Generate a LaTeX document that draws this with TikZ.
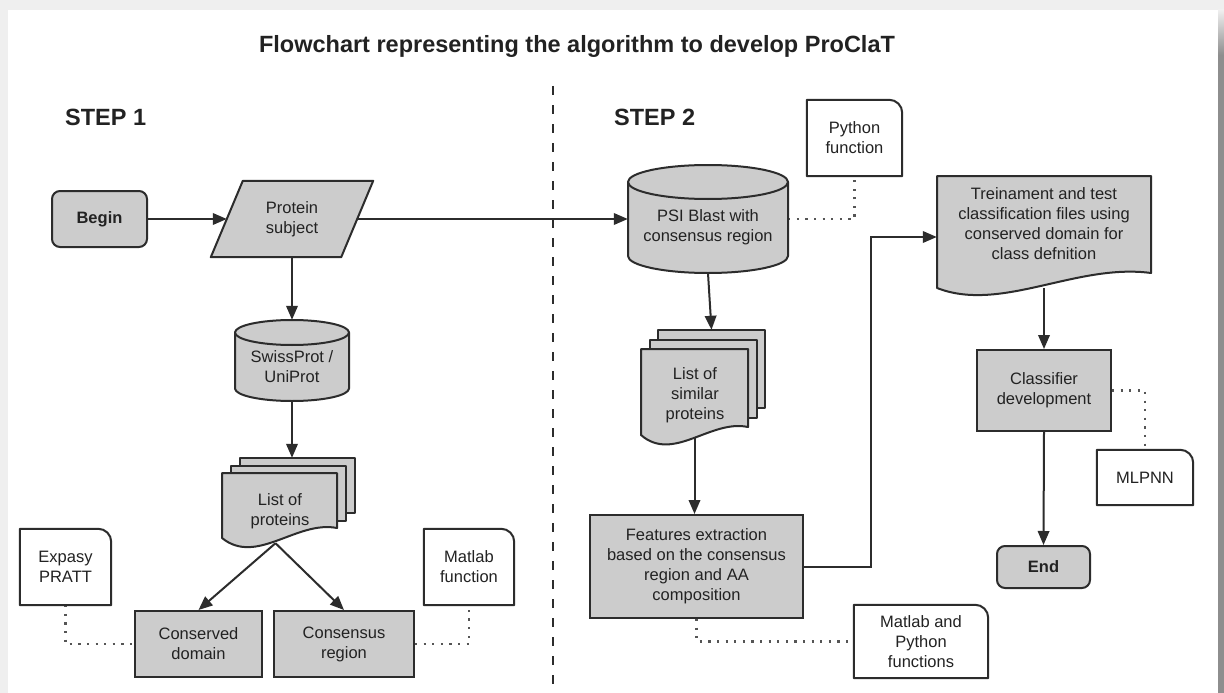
\documentclass[tikz,border=0pt]{standalone}
\usepackage{fontspec}
\setmainfont{Liberation Sans}
\usetikzlibrary{calc,arrows.meta}
\pgfdeclarelayer{back}
\pgfdeclarelayer{bg}
\pgfdeclarelayer{shapes}
\pgfsetlayers{back,bg,shapes,main}
\definecolor{shfill}{HTML}{CCCCCC}
\definecolor{ink}{HTML}{2C2C2C}
\definecolor{txtc}{HTML}{222222}
\definecolor{dotc}{HTML}{555555}
\definecolor{frameg}{HTML}{EFEFEF}
\definecolor{stripg}{HTML}{8E8E8E}
\tikzset{
  base/.style={draw=none, inner sep=0pt, align=center, text=txtc,
    font=\fontsize{16.5}{20}\selectfont},
  ghost/.style={base},
  procbox/.style={base, draw=ink, line width=2pt, fill=shfill},
  termbox/.style={procbox, rounded corners=8pt,
    font=\fontsize{16.5}{20}\selectfont\bfseries},
  notebox/.style={base},
  heading/.style={inner sep=0pt, text=txtc, font=\fontsize{23.5}{28}\selectfont\bfseries},
  outline/.style={draw=ink, line width=2pt, fill=shfill, line join=round},
  noteline/.style={draw=ink, line width=2pt, fill=white, line join=round},
  arr/.style={draw=ink, line width=2pt, -{Triangle[length=14pt,width=11.5pt]}},
  dotline/.style={draw=dotc, line width=2.2pt, dash pattern=on 2.2pt off 6.4pt},
  divider/.style={draw=ink, line width=2pt, dash pattern=on 9pt off 10pt},
}
% document shape: name, half width, half height, rise, c1 (down), c2 (up), page dx, page dy (up)
\newcommand\drawdoc[8]{%
  \begin{scope}[shift={(#1.center)}]
    \ifdim #7pt>0pt
      \path[outline] (-#2+2*#7,-#3-2*#8) rectangle (#2+2*#7,#3-#4-2*#8);
      \path[outline] (-#2+#7,-#3-#8) rectangle (#2+#7,#3-#4-#8);
    \fi
    \path[outline] (-#2,-#3) -- (#2,-#3) -- (#2,#3-#4)
      .. controls (0.3*#2,#3-#6) and (-0.4*#2,#3+#5) .. (-#2,#3) -- cycle;
  \end{scope}}
% cylinder: name, half width, half height, ry
\newcommand\drawcyl[4]{%
  \pgfmathsetmacro\cyB{#3-#4}\pgfmathsetmacro\cyK{0.552*#4}\pgfmathsetmacro\cyL{0.552*#2}%
  \begin{scope}[shift={(#1.center)}]
    \path[outline] (-#2,-\cyB) -- (-#2,\cyB)
      .. controls (-#2,\cyB+\cyK) and (-\cyL,#3) .. (0,#3)
      .. controls (\cyL,#3) and (#2,\cyB+\cyK) .. (#2,\cyB) -- (#2,-\cyB) -- cycle;
    \path[outline] (0,-\cyB) ellipse [x radius=#2pt, y radius=#4pt];
  \end{scope}}
% note: rounded top-right corner
\newcommand\drawnote[1]{%
  \path[noteline] (#1.south west) -- (#1.north west) -- ($(#1.north east)+(-13,0)$)
    .. controls ($(#1.north east)+(-5.8,0)$) and ($(#1.north east)+(0,5.8)$) .. ($(#1.north east)+(0,13)$)
    -- (#1.south east) -- cycle;}
\begin{document}
\begin{tikzpicture}[x=1pt,y=-1pt]
\useasboundingbox (0,0) rectangle (1224,693);
\begin{pgfonlayer}{back}
  \fill[frameg] (0,0) rectangle (1224,693);
  \fill[white] (8,10) rectangle (1218,693);
  \shade[top color=frameg, bottom color=stripg] (1218,10) rectangle (1224,55);
  \fill[stripg] (1218,55) rectangle (1224,693);
\end{pgfonlayer}

% headings
\node[heading, anchor=base] (title) at (577,53) {Flowchart representing the algorithm to develop ProClaT};
\node[heading, anchor=base west] (step1) at (65,125) {STEP 1};
\node[heading, anchor=base west] (step2) at (614,125) {STEP 2};
\draw[divider] (553,86) -- (553,692);

% STEP 1
\node[termbox, minimum width=95, minimum height=56] (begin) at (99.5,219) {Begin};
\node[ghost, minimum width=130, minimum height=76] (prot) at (292,219) {Protein\\subject};
\node[ghost, minimum width=114, minimum height=81] (swiss) at (292,360.5) {};
\node[base] (swisst) at (292,367) {SwissProt /\\UniProt};
\node[ghost, minimum width=115, minimum height=65] (lp) at (279.5,505.5) {};
\node[base] (lpt) at (280,511) {List of\\proteins};
\node[procbox, minimum width=127, minimum height=66] (cd) at (198.5,644) {Conserved\\domain};
\node[procbox, minimum width=140, minimum height=66] (cr) at (344,644) {Consensus\\region};
\node[notebox, minimum width=91, minimum height=76] (ex) at (65.5,567) {Expasy\\PRATT};
\node[notebox, minimum width=90, minimum height=76] (ml) at (469,567) {Matlab\\function};

% STEP 2
\node[ghost, minimum width=160, minimum height=108] (psi) at (708,219) {};
\node[base] (psit) at (708,227) {PSI Blast with\\consensus region};
\node[notebox, minimum width=95, minimum height=76] (py) at (854.5,138) {Python\\function};
\node[ghost, minimum width=107, minimum height=86] (ls) at (694.5,392) {};
\node[base] (lst) at (695,395) {List of\\similar\\proteins};
\node[procbox, minimum width=213, minimum height=103] (feat) at (696.5,566.5) {Features extraction\\based on the consensus\\region and AA\\composition};
\node[notebox, minimum width=134, minimum height=73] (mp) at (921,641.5) {Matlab and\\Python\\functions};
\node[ghost, minimum width=214, minimum height=112] (trein) at (1044,232) {};
\node[base] (treint) at (1044,223.5) {Treinament and test\\classification files using\\conserved domain for\\class defnition};
\node[procbox, minimum width=134, minimum height=81] (cls) at (1044,390.5) {Classifier\\development};
\node[notebox, minimum width=96, minimum height=55] (mlp) at (1145,477.5) {MLPNN};
\node[termbox, minimum width=93, minimum height=42] (endn) at (1043.5,567) {End};

% custom outlines
\begin{pgfonlayer}{shapes}
  \path[outline] ($(prot.south west)+(-16,0)$) -- ($(prot.north west)+(16,0)$)
    -- ($(prot.north east)+(16,0)$) -- ($(prot.south east)+(-16,0)$) -- cycle;
  \drawcyl{swiss}{57}{40.5}{12.5}
  \drawcyl{psi}{80}{54}{17}
  \drawdoc{lp}{57.5}{32.5}{10}{28}{18}{9}{7.5}
  \drawdoc{ls}{53.5}{43}{8}{28}{16}{8.5}{9.5}
  \drawdoc{trein}{107}{56}{15}{25}{25}{0}{0}
  \drawnote{ex}
  \drawnote{ml}
  \drawnote{py}
  \drawnote{mp}
  \drawnote{mlp}
\end{pgfonlayer}

% connectors
\begin{pgfonlayer}{bg}
  \draw[arr] (begin.east) -- (prot.west);
  \draw[arr] (prot.east) -- (psi.west);
  \draw[arr] (prot.south) -- (swiss.north);
  \coordinate (lptop) at ($(lp.north)+(18,-15)$);
  \draw[arr] (swiss.south) -- (swiss.south |- lptop);
  \coordinate (lpout) at ($(lp.south)+(-4,5)$);
  \draw[arr] (lpout) -- (cd.north);
  \draw[arr] (lpout) -- (cr.north);
  \draw[arr] (psi.south) -- ($(ls.north)+(17,-19)$);
  \draw[arr] (ls.south) -- (ls.south |- feat.north);
  \coordinate (elb) at ($(trein.west)+(-66,5)$);
  \draw[arr] (feat.east) -| (elb) -- (elb -| trein.west);
  \draw[arr] (trein.south) -- (cls.north);
  \draw[arr] (cls.south) -- (endn.north);
  \draw[dotline] (ex.south) |- (cd.west);
  \draw[dotline] (cr.east) -| (ml.south);
  \draw[dotline] (psi.east) -| (py.south);
  \draw[dotline] (feat.south) |- (mp.west);
  \draw[dotline] (cls.east) -| (mlp.north);
\end{pgfonlayer}
\end{tikzpicture}
\end{document}
